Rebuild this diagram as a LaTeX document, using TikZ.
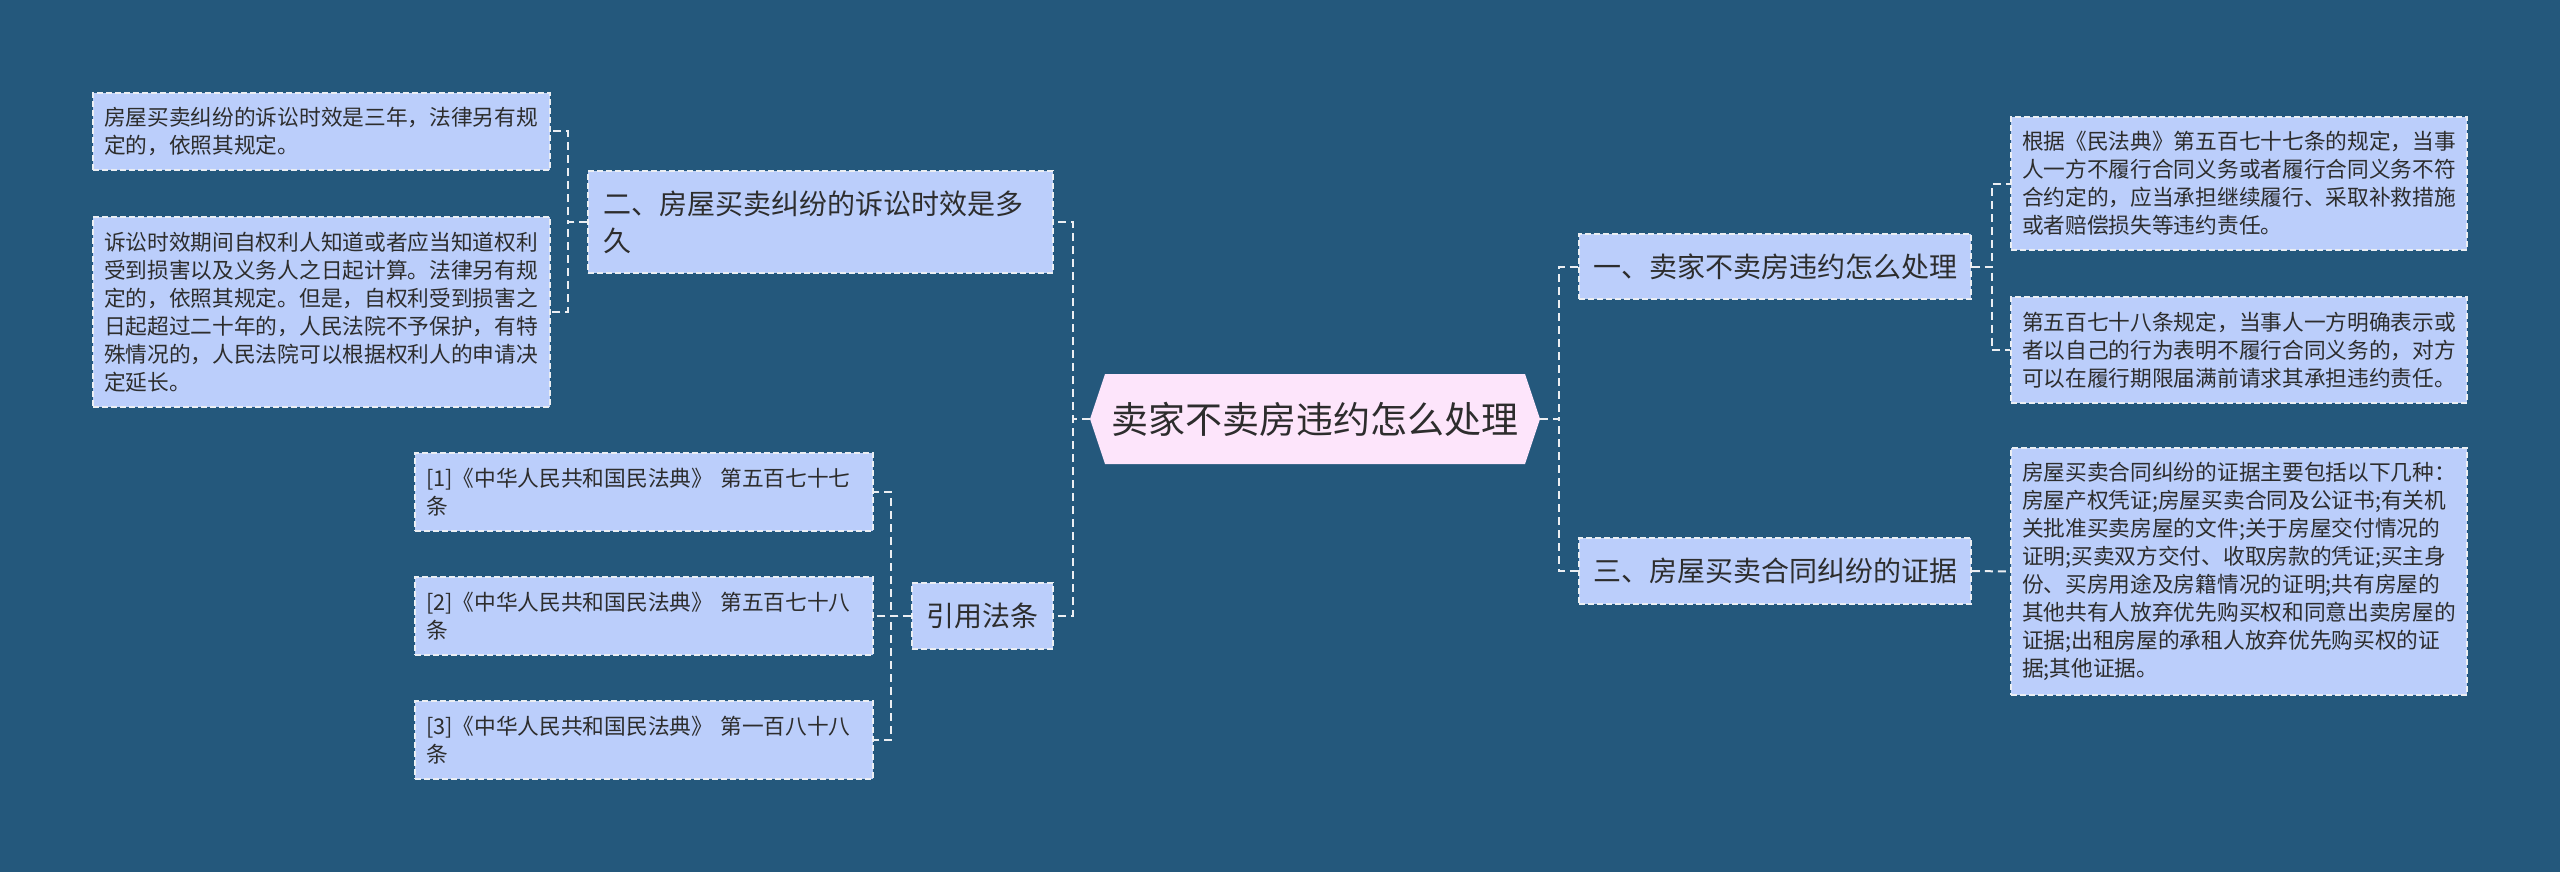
\documentclass[tikz,border=0pt]{standalone}
\usepackage{fontspec}
\setmainfont{Noto Sans CJK SC}
\definecolor{bgc}{RGB}{36,88,124}
\definecolor{boxc}{RGB}{187,206,251}
\definecolor{cenc}{RGB}{253,229,251}
\definecolor{txt}{RGB}{45,45,45}
\definecolor{lnc}{RGB}{235,238,242}
\tikzset{
  box/.style={rectangle, draw=lnc, line width=1.5pt, dash pattern=on 6pt off 3pt, fill=boxc, text=txt, inner ysep=0pt},
  leaf/.style={box, font=\fontsize{21.7}{28.1}\selectfont, align=left, inner xsep=11pt, text width=435pt, minimum width=457pt},
  mid/.style={box, font=\fontsize{28}{37}\selectfont, align=left, inner xsep=14pt},
  conn/.style={draw=lnc, line width=2pt, dash pattern=on 8pt off 5pt},
}
\begin{document}
\begin{tikzpicture}[x=1pt,y=-1pt]
\fill[bgc] (0,0) rectangle (2560,872);
\useasboundingbox (0,0) rectangle (2560,872);

% central topic
\fill[cenc] (1090,419) -- (1105,374) -- (1525,374) -- (1540,419) -- (1525,464) -- (1105,464) -- cycle;
\node[minimum width=450pt, minimum height=90pt, inner sep=0pt, text=txt, font=\fontsize{37}{44}\selectfont] (center) at (1315,419) {卖家不卖房违约怎么处理};

% left branch 1
\node[mid, text width=435pt, inner xsep=15pt, minimum width=465pt, minimum height=102pt] (L2) at (820.5,222) {二、房屋买卖纠纷的诉讼时效是多\\久};
\node[leaf, minimum height=77pt] (TL1) at (321.5,131.5) {房屋买卖纠纷的诉讼时效是三年，法律另有规\\定的，依照其规定。};
\node[leaf, minimum height=190pt] (TL2) at (321.5,312) {诉讼时效期间自权利人知道或者应当知道权利\\受到损害以及义务人之日起计算。法律另有规\\定的，依照其规定。但是，自权利受到损害之\\日起超过二十年的，人民法院不予保护，有特\\殊情况的，人民法院可以根据权利人的申请决\\定延长。};

% left branch 2
\node[mid, align=center, minimum width=141pt, minimum height=66pt] (cite) at (982.5,616) {引用法条};
\node[leaf, text width=436pt, minimum width=458pt, minimum height=78pt] (C1) at (644,492) {[1]《中华人民共和国民法典》 第五百七十七\\条};
\node[leaf, text width=436pt, minimum width=458pt, minimum height=78pt] (C2) at (644,616) {[2]《中华人民共和国民法典》 第五百七十八\\条};
\node[leaf, text width=436pt, minimum width=458pt, minimum height=78pt] (C3) at (644,740) {[3]《中华人民共和国民法典》 第一百八十八\\条};

% right branch 1
\node[mid, align=center, minimum width=392pt, minimum height=65pt] (R1) at (1775,266.5) {一、卖家不卖房违约怎么处理};
\node[leaf, text width=434pt, minimum width=456pt, minimum height=133pt] (RC1) at (2239,183.5) {根据《民法典》第五百七十七条的规定，当事\\人一方不履行合同义务或者履行合同义务不符\\合约定的，应当承担继续履行、采取补救措施\\或者赔偿损失等违约责任。};
\node[leaf, text width=434pt, minimum width=456pt, minimum height=106pt] (RC2) at (2239,350) {第五百七十八条规定，当事人一方明确表示或\\者以自己的行为表明不履行合同义务的，对方\\可以在履行期限届满前请求其承担违约责任。};

% right branch 2
\node[mid, align=center, minimum width=392pt, minimum height=66pt] (R3) at (1775,571) {三、房屋买卖合同纠纷的证据};
\node[leaf, text width=434pt, minimum width=456pt, minimum height=247pt] (RC3) at (2239,571.5) {房屋买卖合同纠纷的证据主要包括以下几种：\\房屋产权凭证;房屋买卖合同及公证书;有关机\\关批准买卖房屋的文件;关于房屋交付情况的\\证明;买卖双方交付、收取房款的凭证;买主身\\份、买房用途及房籍情况的证明;共有房屋的\\其他共有人放弃优先购买权和同意出卖房屋的\\证据;出租房屋的承租人放弃优先购买权的证\\据;其他证据。};

% connectors
\draw[conn] (center.west) -- ++(-17,0) |- (L2.east);
\draw[conn] (center.west) -- ++(-17,0) |- (cite.east);
\draw[conn] (L2.west) -- ++(-19,0) |- (TL1.east);
\draw[conn] (L2.west) -- ++(-19,0) |- (TL2.east);
\draw[conn] (cite.west) -- ++(-20,0) |- (C1.east);
\draw[conn] (cite.west) -- ++(-20,0) |- (C2.east);
\draw[conn] (cite.west) -- ++(-20,0) |- (C3.east);
\draw[conn] (center.east) -- ++(19,0) |- (R1.west);
\draw[conn] (center.east) -- ++(19,0) |- (R3.west);
\draw[conn] (R1.east) -- ++(20,0) |- (RC1.west);
\draw[conn] (R1.east) -- ++(20,0) |- (RC2.west);
\draw[conn] (R3.east) -- (RC3.west);
\end{tikzpicture}
\end{document}
